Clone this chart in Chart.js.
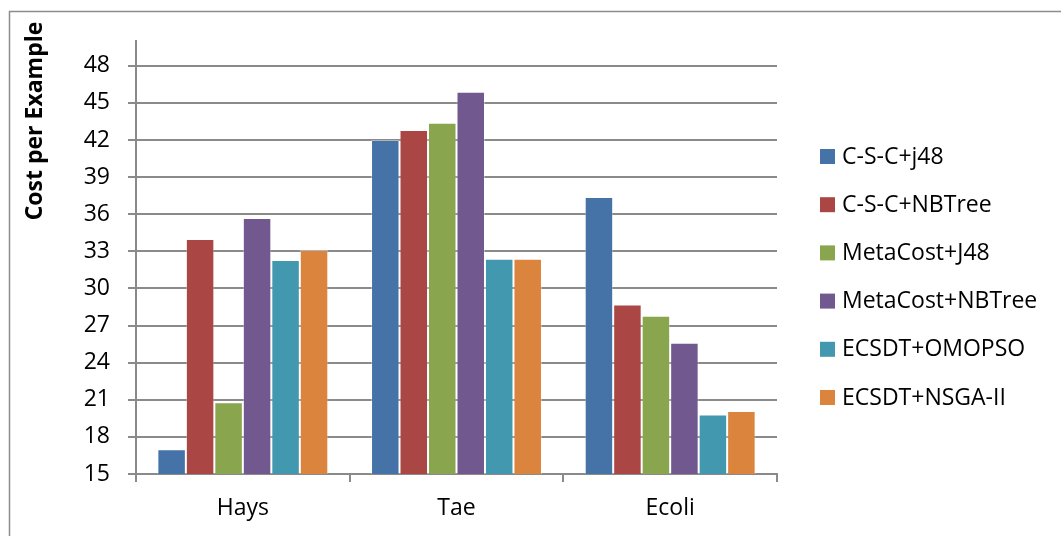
<!DOCTYPE html>
<html>
<head>
<meta charset="utf-8">
<script src="https://cdn.jsdelivr.net/npm/chart.js@4"></script>
<style>
  html, body { margin: 0; padding: 0; background: #fff; }
  #wrap { width: 1061px; height: 536px; }
</style>
</head>
<body>
<div id="wrap"><canvas id="myChart" width="1061" height="536"></canvas></div>
<script>
// Categories and series (cost per example)
const categories = ['Hays', 'Tae', 'Ecoli'];
const seriesNames = ['C-S-C+j48', 'C-S-C+NBTree', 'MetaCost+J48', 'MetaCost+NBTree', 'ECSDT+OMOPSO', 'ECSDT+NSGA-II'];
const cscJ48 = [17.0, 42.0, 37.4];
const cscNBTree = [34.0, 42.8, 28.7];
const metaJ48 = [20.8, 43.4, 27.8];
const metaNBTree = [35.7, 45.9, 25.6];
const ecsdtOmopso = [32.3, 32.4, 19.8];
const ecsdtNsga = [33.1, 32.4, 20.1];
const seriesValues = [cscJ48, cscNBTree, metaJ48, metaNBTree, ecsdtOmopso, ecsdtNsga];
const seriesColors = ['#4572A7', '#AA4643', '#89A54E', '#71588F', '#4198AF', '#DB843D'];

const fontFamily = "'Open Sans', 'Noto Sans', sans-serif";
const gridColor = '#8a8a8a';

// outer frame (top and left edges only) + y title
const framePlugin = {
    id: 'frame',
    beforeDraw(chart) {
        const c = chart.ctx;
        c.save();
        c.fillStyle = '#fff';
        c.fillRect(0, 0, chart.width, chart.height);
        c.strokeStyle = '#8c8c8c';
        c.lineWidth = 1.5;
        c.beginPath();
        c.moveTo(9.5, chart.height);
        c.lineTo(9.5, 11.5);
        c.lineTo(chart.width, 11.5);
        c.stroke();
        c.restore();
    },
    afterDraw(chart) {
        const c = chart.ctx;
        c.save();
        c.translate(35, 121);
        c.rotate(-Math.PI / 2);
        c.fillStyle = '#000';
        c.font = "bold 23px " + fontFamily;
        c.textAlign = 'center';
        c.textBaseline = 'middle';
        c.fillText('Cost per Example', 0, 0);
        c.restore();
    }
};

// legend drawn at Excel-like position on the right
const legendPlugin = {
    id: 'sideLegend',
    afterDraw(chart) {
        const c = chart.ctx;
        c.save();
        c.font = "23px " + fontFamily;
        c.textBaseline = 'middle';
        chart.data.datasets.forEach(function (ds, i) {
            const y = 156 + i * 48.2;
            c.fillStyle = ds.backgroundColor;
            c.fillRect(820, y - 7, 15, 15);
            c.fillStyle = '#000';
            c.fillText(ds.label, 842, y + 1);
        });
        c.restore();
    }
};

let ctx = document.getElementById('myChart').getContext('2d');
let myChart = new Chart(ctx, {
    type: 'bar',
    data: {
        labels: categories,
        datasets: seriesNames.map(function (name, i) {
            return {
                label: name,
                data: seriesValues[i],
                backgroundColor: seriesColors[i],
                borderColor: 'rgba(255,255,255,0.35)',
                borderWidth: 1,
                categoryPercentage: 0.8,
                barPercentage: 1.0
            };
        })
    },
    options: {
        responsive: false,
        animation: false,
        layout: {
            padding: { left: 0, right: 284, top: 41, bottom: 0 }
        },
        plugins: {
            legend: { display: false },
            tooltip: { enabled: false }
        },
        scales: {
            x: {
                grid: {
                    drawOnChartArea: false,
                    drawTicks: true,
                    tickLength: 8,
                    color: gridColor,
                    lineWidth: 2
                },
                border: { color: gridColor, width: 2 },
                ticks: {
                    color: '#000',
                    font: { family: fontFamily, size: 23 },
                    padding: 13
                },
                afterFit: function (scale) { scale.height = 62; }
            },
            y: {
                min: 15,
                max: 50,
                ticks: {
                    stepSize: 3,
                    autoSkip: false,
                    includeBounds: false,
                    color: '#000',
                    font: { family: fontFamily, size: 23 },
                    padding: 18
                },
                grid: {
                    color: gridColor,
                    lineWidth: 2,
                    tickLength: 8
                },
                border: { color: gridColor, width: 2 },
                afterFit: function (scale) { scale.width = 136; }
            }
        }
    },
    plugins: [framePlugin, legendPlugin]
});
</script>
</body>
</html>
